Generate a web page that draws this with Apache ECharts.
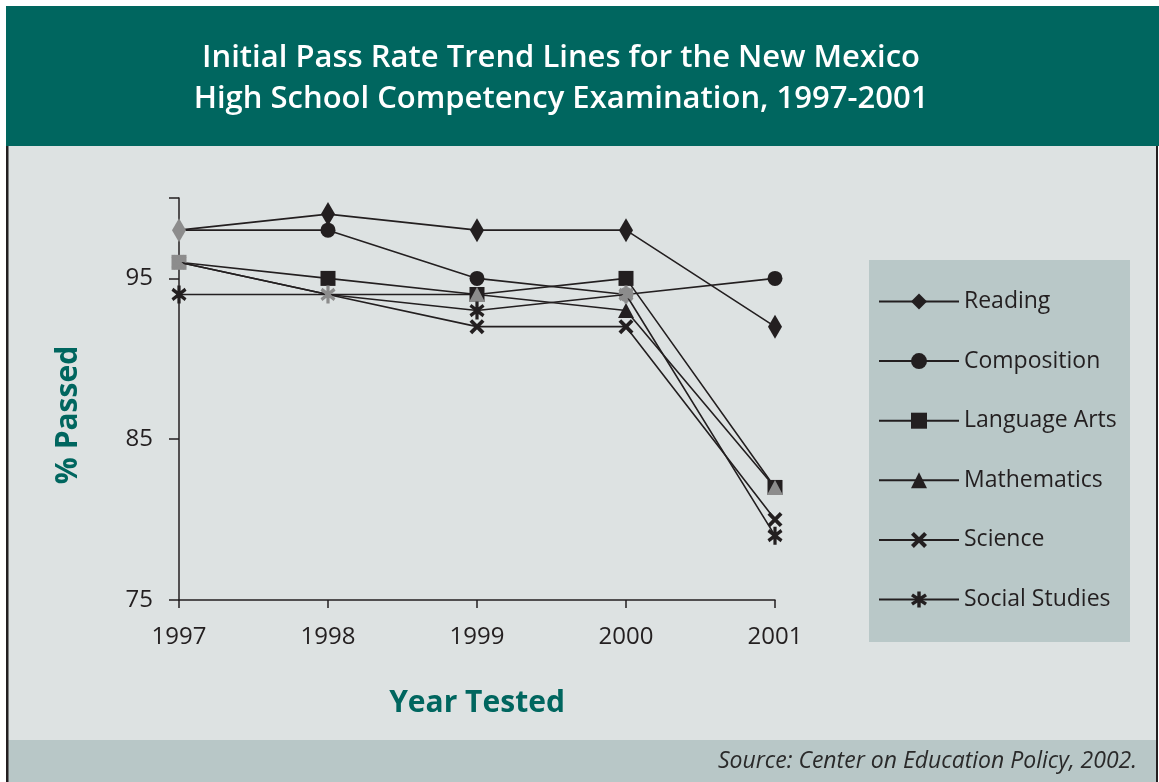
<!DOCTYPE html>
<html>
<head>
<meta charset="utf-8">
<script src="https://cdn.jsdelivr.net/npm/echarts@6/dist/echarts.min.js"></script>
<style>
html,body{margin:0;padding:0;background:#ffffff;}
#chart{width:1159px;height:782px;}
</style>
</head>
<body>
<div id="chart"></div>
<script>
// ---- data ----
const years = ['1997', '1998', '1999', '2000', '2001'];
const seriesNames = ['Reading', 'Composition', 'Language Arts', 'Mathematics', 'Science', 'Social Studies'];
const reading = [98, 99, 98, 98, 92];
const composition = [98, 98, 95, 94, 95];
const languageArts = [96, 95, 94, 95, 82];
const mathematics = [96, 94, 94, 93, 82];
const science = [96, 94, 92, 92, 80];
const socialStudies = [94, 94, 93, 94, 79];
const yTicks = [75, 85, 95];
const titleLines = ['Initial Pass Rate Trend Lines for the New Mexico', 'High School Competency Examination, 1997-2001'];
const sourceText = 'Source: Center on Education Policy, 2002.';

// points drawn grey / hidden in the original (overlapping markers)
const greyPoints = [[0,0],[1,0],[2,0],[4,0],[5,1],[3,2],[5,3],[3,4],[1,3]];
const hiddenPoints = [[1,0],[3,0],[3,1],[4,1]];

// ---- symbols ----
function barsPath(angles, half, w) {
  let d = '';
  angles.forEach(a => {
    const r = a * Math.PI / 180, c = Math.cos(r), s = Math.sin(r);
    const pts = [[-half,-w],[half,-w],[half,w],[-half,w]].map(p => [50 + p[0]*c - p[1]*s, 50 + p[0]*s + p[1]*c]);
    d += 'M' + pts.map(p => p[0].toFixed(2) + ',' + p[1].toFixed(2)).join('L') + 'Z';
  });
  return 'path://' + d;
}
const xSym = barsPath([45, 135], 50, 11);
const starSym = barsPath([90, 35, 145], 50, 10);

const INK = '#231f20';
const GREY = '#8c8c8c';
const TEAL = '#00665f';
const symbols = ['diamond', 'circle', 'rect', 'triangle', xSym, starSym];
const sizes = [[14, 24], 15, 15, [16, 15], 15, [15, 18]];
const values = [reading, composition, languageArts, mathematics, science, socialStudies];

function isIn(list, s, i) { return list.some(p => p[0] === s && p[1] === i); }

const series = seriesNames.map((name, s) => ({
  name: name,
  type: 'line',
  symbol: symbols[s],
  symbolSize: sizes[s],
  symbolKeepAspect: false,
  showAllSymbol: true,
  z: s === 0 ? 10 : 2 + s,
  lineStyle: { color: INK, width: 1.6 },
  itemStyle: { color: INK, opacity: 1 },
  emphasis: { disabled: true },
  animation: false,
  data: values[s].map((v, i) => {
    const item = { value: v };
    if (isIn(hiddenPoints, s, i)) item.symbol = 'none';
    else if (isIn(greyPoints, s, i)) item.itemStyle = { color: GREY };
    return item;
  })
}));

const chart = echarts.init(document.getElementById('chart'), null, { renderer: 'canvas' });
const FONT = '"Open Sans", Lato, sans-serif';

chart.setOption({
  backgroundColor: '#ffffff',
  animation: false,
  textStyle: { fontFamily: FONT },
  graphic: [
    { type: 'rect', z: -10, shape: { x: 6, y: 6, width: 1153, height: 140 }, style: { fill: TEAL } },
    { type: 'rect', z: -10, shape: { x: 6, y: 146, width: 1151, height: 594 }, style: { fill: '#dde2e2' } },
    { type: 'rect', z: -10, shape: { x: 6, y: 740, width: 1151, height: 42 }, style: { fill: '#b8c7c7' } },
    { type: 'rect', z: -9, shape: { x: 6, y: 146, width: 2.5, height: 636 }, style: { fill: '#231f20' } },
    { type: 'rect', z: -9, shape: { x: 1156, y: 146, width: 2, height: 636 }, style: { fill: '#231f20' } },
    { type: 'rect', z: -5, shape: { x: 869, y: 260, width: 261, height: 382 }, style: { fill: '#b9c8c8' } },
    { type: 'text', x: 561, y: 58, style: { text: titleLines[0], fill: '#ffffff', font: '600 31px ' + FONT, textAlign: 'center', textVerticalAlign: 'middle' } },
    { type: 'text', x: 561, y: 99, style: { text: titleLines[1], fill: '#ffffff', font: '600 31px ' + FONT, textAlign: 'center', textVerticalAlign: 'middle' } },
    { type: 'text', x: 1137, y: 761, style: { text: sourceText, fill: '#2a2a2a', font: 'italic 23px ' + FONT, textAlign: 'right', textVerticalAlign: 'middle' } }
  ],
  grid: { left: 179, right: 384, top: 198, bottom: 182, containLabel: false },
  legend: {
    orient: 'vertical',
    left: 873,
    top: 285,
    itemWidth: 80,
    itemHeight: 20,
    itemGap: 36.6,
    data: seriesNames,
    selectedMode: false,
    textStyle: { fontSize: 23, color: INK, fontFamily: FONT }
  },
  xAxis: {
    type: 'category',
    data: years,
    boundaryGap: false,
    name: 'Year Tested',
    nameLocation: 'middle',
    nameGap: 88,
    nameTextStyle: { fontSize: 30, fontWeight: 'bold', color: TEAL, fontFamily: FONT },
    axisLine: { lineStyle: { color: INK, width: 1.5 } },
    axisTick: { show: true, alignWithLabel: true, length: 8, lineStyle: { color: INK, width: 1.5 } },
    axisLabel: { fontSize: 24, color: INK, margin: 25, fontFamily: FONT },
    splitLine: { show: false }
  },
  yAxis: {
    type: 'value',
    min: 75,
    max: 100,
    interval: 10,
    name: '% Passed',
    nameLocation: 'middle',
    nameRotate: 90,
    nameGap: 96,
    nameTextStyle: { fontSize: 30, fontWeight: 'bold', color: TEAL, fontFamily: FONT, padding: [0, 32, 0, 0] },
    axisLine: { show: true, lineStyle: { color: INK, width: 1.5 } },
    axisTick: { show: true, length: 10, lineStyle: { color: INK, width: 1.5 } },
    axisLabel: {
      fontSize: 24, color: INK, margin: 26, fontFamily: FONT,
      formatter: v => (yTicks.indexOf(v) >= 0 ? String(v) : '')
    },
    splitLine: { show: false }
  },
  series: series
});
</script>
</body>
</html>
